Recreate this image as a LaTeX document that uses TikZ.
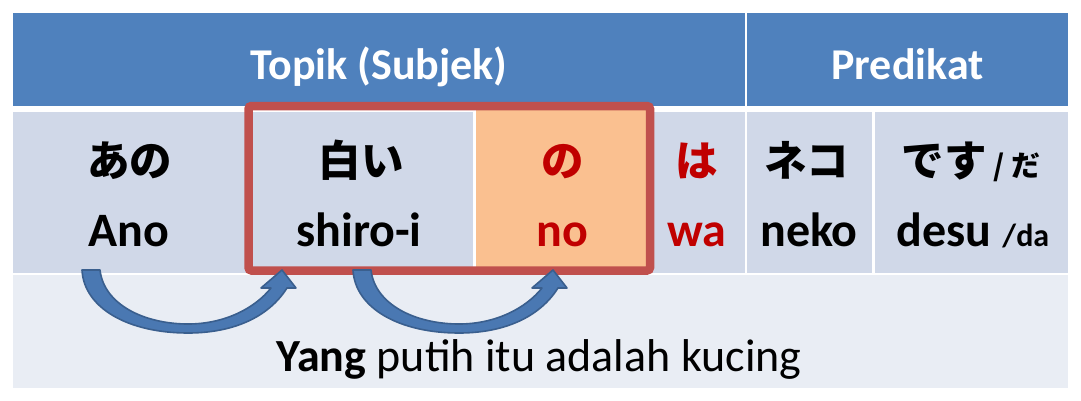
\documentclass[tikz,border=0pt]{standalone}
\usepackage{fontspec}
\setmainfont{Carlito}
\newfontfamily\jpfont{Noto Sans CJK JP}
\definecolor{hdrblue}{HTML}{4F81BD}
\definecolor{rowblue}{HTML}{D0D8E8}
\definecolor{botblue}{HTML}{E9EDF4}
\definecolor{boxred}{HTML}{C0504D}
\definecolor{txtred}{HTML}{C00000}
\definecolor{orangefill}{HTML}{FAC090}
\definecolor{arrowfill}{HTML}{4A78B2}
\definecolor{arrowline}{HTML}{3A5F8E}
\newcommand{\bentarrow}[1]{%
  \begin{scope}[shift={(#1,0)}]
    \filldraw[fill=arrowfill,draw=arrowline,line width=1.6pt,line join=round]
      (82,270) -- (100,270)
      .. controls (104,305) and (145,324) .. (188,324)
      .. controls (225,324) and (255,308) .. (271,288)
      -- (261,288) -- (282,270) -- (296,288) -- (287,288)
      .. controls (268,318) and (232,333) .. (188,333)
      .. controls (128,333) and (84,308) .. (82,270) -- cycle;
  \end{scope}}
\begin{document}
\begin{tikzpicture}[x=1pt,y=-1pt,
  hdr/.style={inner sep=0pt,anchor=base,font=\fontsize{44}{50}\selectfont\bfseries,text=white},
  lat/.style={inner sep=0pt,anchor=base,font=\fontsize{48}{54}\selectfont\bfseries},
  jp/.style={inner sep=0pt,anchor=base,font=\fontsize{42.5}{48}\selectfont\jpfont\bfseries},
  red/.style={text=txtred}]
\useasboundingbox (0,0) rectangle (1081,400);
% backgrounds
\fill[hdrblue] (13,13) rectangle (1068,106);
\fill[white] (745,13) rectangle (747,106);
\fill[rowblue] (13,112) rectangle (1068,273);
\fill[botblue] (13,275) rectangle (1068,388);
\fill[white] (473,112) rectangle (476,273);
\fill[white] (745,112) rectangle (747,273);
\fill[white] (872,112) rectangle (875,273);
\fill[orangefill] (476,110) rectangle (650,270);
\draw[boxred,line width=8.5pt,rounded corners=3pt] (248.5,106) rectangle (650,270.5);
% header texts
\node[hdr] (topik) at (379,79) {Topik (Subjek)};
\node[hdr] (pred) at (907.5,79) {Predikat};
% japanese row
\node[jp] (ano) at (129.5,176) {あの};
\node[jp] (shiroi) at (361,176) {白い};
\node[jp,red] (no) at (562.5,176) {の};
\node[jp,red] (wa) at (697,176) {は};
\node[jp] (neko) at (807,176) {ネコ};
\node[jp] (desu) at (971,176) {です\fontsize{29}{32}\selectfont{} / だ};
% romaji row
\node[lat] (anor) at (129,246) {Ano};
\node[lat] (shiroir) at (359,246) {shiro-i};
\node[lat,red] (nor) at (562.5,246) {no};
\node[lat,red] (war) at (697,246) {wa};
\node[lat] (nekor) at (809,246) {neko};
\node[lat] (desur) at (973,246) {desu \fontsize{32}{35}\selectfont/da};
% arrows
\bentarrow{0}
\bentarrow{271}
% sentence
\node[inner sep=0pt,anchor=base,font=\fontsize{46}{52}\selectfont] (sent) at (539,371) {\textbf{Yang} putih itu adalah kucing};
\end{tikzpicture}
\end{document}
